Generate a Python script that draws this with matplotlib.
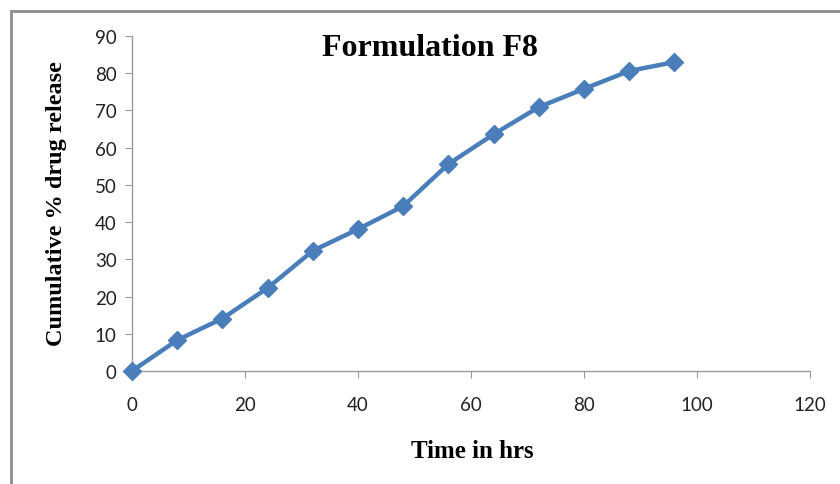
import numpy as np
import matplotlib.pyplot as plt
from matplotlib.patches import Rectangle

# release data, formulation F8
time_hrs = [0, 8, 16, 24, 32, 40, 48, 56, 64, 72, 80, 88, 96]
release = [0, 8.3, 14.1, 22.3, 32.3, 38.1, 44.3, 55.6, 63.6, 70.9, 75.8, 80.6, 83.0]
xticks = [0, 20, 40, 60, 80, 100, 120]
yticks = [0, 10, 20, 30, 40, 50, 60, 70, 80, 90]

fig = plt.figure(figsize=(8.4, 4.85), dpi=100)
# outer chart border (cut off on the right and bottom)
fig.patches.append(Rectangle((11 / 840, -0.1), 1.2, 1 - 12 / 485 + 0.1,
                             transform=fig.transFigure, fill=False,
                             edgecolor="#8c8c8c", linewidth=2))

ax = fig.add_axes([132 / 840, 1 - 372 / 485, 678 / 840, 335 / 485])
ax.plot(time_hrs, release, color="#4a7ebb", linewidth=3.2, marker="D",
        markersize=9, markerfacecolor="#4a7ebb", markeredgecolor="#4a7ebb",
        clip_on=False, zorder=3)

ax.set_xlim(0, 120)
ax.set_ylim(0, 90)
ax.set_xticks(xticks)
ax.set_yticks(yticks)
for s in ["top", "right"]:
    ax.spines[s].set_visible(False)
for s in ["left", "bottom"]:
    ax.spines[s].set_color("#9a9a9a")
    ax.spines[s].set_linewidth(1)
ax.tick_params(direction="out", length=5, color="#9a9a9a", labelsize=13.5,
               labelcolor="#222222")
ax.tick_params(axis="x", pad=13)
ax.tick_params(axis="y", pad=6)
for lab in ax.get_xticklabels() + ax.get_yticklabels():
    lab.set_family("Lato")

serif = "Liberation Serif"
fig.text(430 / 840, 1 - 48 / 485, "Formulation F8", family=serif,
         fontweight="bold", fontsize=23, ha="center", va="center")
fig.text(472 / 840, 1 - 452 / 485, "Time in hrs", family=serif,
         fontweight="bold", fontsize=18, ha="center", va="center")
fig.text(57 / 840, 1 - 204 / 485, "Cumulative % drug release", family=serif,
         fontweight="bold", fontsize=17.5, ha="center", va="center", rotation=90)

fig.savefig("out.png", dpi=100)
